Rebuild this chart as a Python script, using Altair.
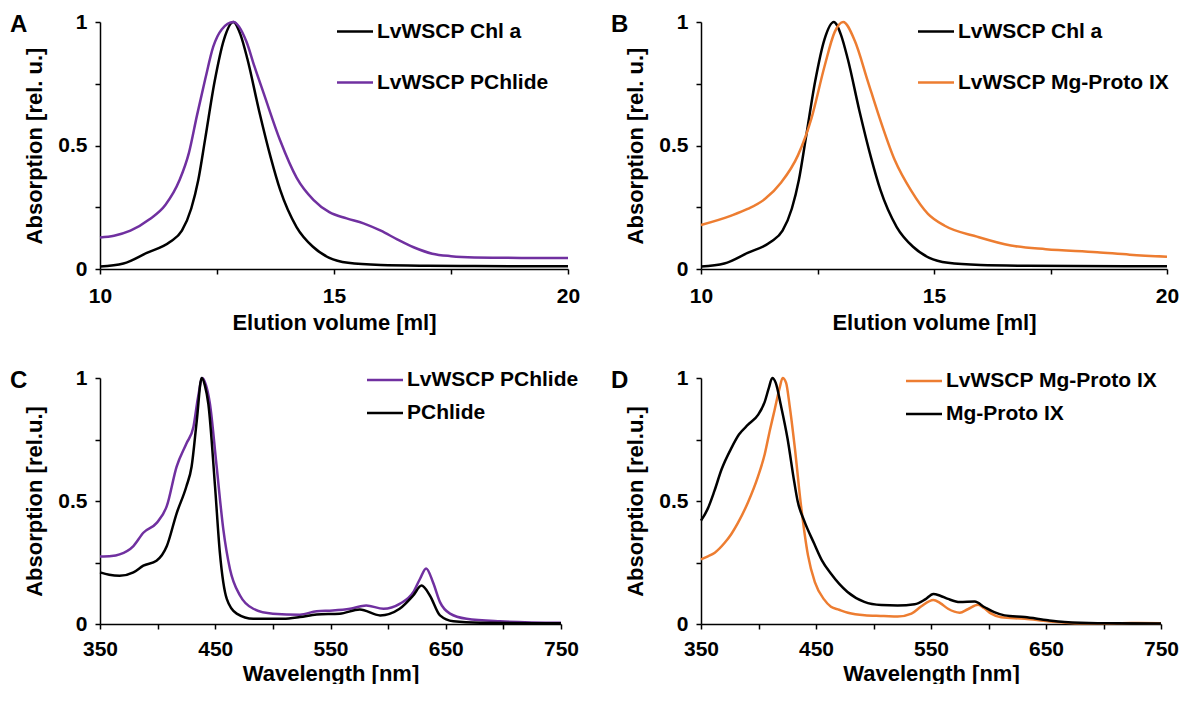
import altair as alt
import pandas as pd

FONT = "Liberation Sans"
PURPLE = "#7030A0"
ORANGE = "#ED7D31"
BLACK = "#000000"

# ---- Panel A / B : elution profiles ----
chl_x = [10, 10.5, 11, 11.5, 11.75, 11.95, 12.1, 12.25, 12.45, 12.65, 12.85, 13.0, 13.15, 13.4,
         13.65, 13.85, 14.2, 14.55, 14.9, 15.3, 16, 17, 18, 20]
chl_y = [0.01, 0.022, 0.065, 0.11, 0.155, 0.245, 0.36, 0.53, 0.76, 0.93, 1.0, 0.95, 0.85, 0.64,
         0.45, 0.32, 0.17, 0.09, 0.045, 0.025, 0.016, 0.013, 0.012, 0.011]

pchl_el_x = [10, 10.3, 10.65, 11.05, 11.4, 11.7, 11.9, 12.07, 12.25, 12.42, 12.6, 12.85, 13.13,
             13.3, 13.5, 13.85, 14.2, 14.56, 14.9, 15.27, 15.63, 16.0, 16.35, 16.7, 17.1, 17.5,
             18, 19, 20]
pchl_el_y = [0.128, 0.135, 0.155, 0.2, 0.26, 0.36, 0.47, 0.62, 0.77, 0.9, 0.97, 1.0, 0.92,
             0.82, 0.71, 0.52, 0.37, 0.28, 0.23, 0.205, 0.185, 0.155, 0.12, 0.088, 0.062, 0.052,
             0.047, 0.045, 0.045]

mgp_el_x = [10, 10.65, 11.0, 11.37, 11.72, 12.08, 12.37, 12.65, 12.87, 13.05, 13.3, 13.58, 13.8,
            14.16, 14.51, 14.87, 15.23, 15.94, 16.65, 17.4, 18.5, 19.2, 20]
mgp_el_y = [0.178, 0.216, 0.243, 0.283, 0.35, 0.46, 0.61, 0.82, 0.96, 1.0, 0.924, 0.76, 0.63,
            0.44, 0.317, 0.223, 0.175, 0.13, 0.095, 0.08, 0.068, 0.058, 0.05]

# ---- Panel C : PChlide spectra ----
c_pur_x = [350, 360, 367, 379, 387.6, 399, 408, 416.5, 425, 431, 435, 438.8, 442, 445.4, 451, 457,
           462.8, 471.5, 483, 500, 523.5, 538, 552, 567, 581, 596, 610, 621.8, 627.6, 633, 639,
           645, 653.7, 668, 697, 750]
c_pur_y = [0.274, 0.276, 0.283, 0.317, 0.371, 0.41, 0.48, 0.64, 0.734, 0.80, 0.92, 1.0, 0.97,
           0.895, 0.65, 0.385, 0.223, 0.116, 0.062, 0.042, 0.038, 0.052, 0.055, 0.062, 0.075,
           0.062, 0.082, 0.129, 0.183, 0.226, 0.169, 0.089, 0.042, 0.021, 0.011, 0.005]
c_blk_x = [350, 358, 367, 379, 387.6, 399, 408, 416.5, 425, 429.5, 434, 438.2, 441, 444, 449.8,
           454, 460, 468.6, 483, 509, 523.5, 538, 558, 575.4, 593, 610, 621.8, 629, 636.2, 645,
           656.6, 680, 750]
c_blk_y = [0.21, 0.2, 0.196, 0.21, 0.237, 0.257, 0.317, 0.45, 0.56, 0.64, 0.828, 1.0, 0.97, 0.895,
           0.56, 0.29, 0.102, 0.042, 0.021, 0.021, 0.028, 0.039, 0.042, 0.059, 0.035, 0.062,
           0.116, 0.156, 0.116, 0.035, 0.011, 0.005, 0.003]

# ---- Panel D : Mg-Proto IX spectra ----
d_org_x = [350, 356, 362, 370.6, 376.4, 382, 390.9, 399.6, 405.4, 410, 414, 418.4, 421, 424, 427,
           431.5, 437, 443, 449, 457, 463, 470, 477.8, 492.3, 509, 521, 533, 541.6, 552, 558,
           564.8, 575, 582, 591, 596, 602.4, 611, 631.5, 651.7, 675, 700, 724, 750]
d_org_y = [0.263, 0.275, 0.29, 0.33, 0.366, 0.41, 0.495, 0.6, 0.69, 0.79, 0.87, 0.96, 1.0, 0.98,
           0.89, 0.72, 0.48, 0.28, 0.17, 0.1, 0.07, 0.058, 0.046, 0.036, 0.033, 0.03, 0.042,
           0.072, 0.098, 0.085, 0.062, 0.046, 0.06, 0.078, 0.065, 0.042, 0.027, 0.021, 0.011,
           0.003, 0.002, 0.004, 0.003]
d_blk_x = [350, 356, 361.6, 368, 376.4, 383, 390.9, 399.6, 405.4, 409, 412, 415, 419.4, 425.2,
           431, 434, 439.7, 448.4, 455, 462.9, 477.4, 492, 506.8, 521, 535.8, 545, 552, 558,
           564.8, 575, 588, 596.7, 605, 614, 631.5, 651.7, 666, 695, 750]
d_blk_y = [0.42, 0.47, 0.54, 0.63, 0.715, 0.77, 0.81, 0.85, 0.903, 0.96, 1.0, 0.98, 0.89, 0.755,
           0.58, 0.5, 0.42, 0.327, 0.26, 0.205, 0.13, 0.09, 0.077, 0.075, 0.08, 0.1, 0.122, 0.115,
           0.102, 0.089, 0.091, 0.068, 0.048, 0.035, 0.028, 0.015, 0.008, 0.003, 0.002]

y_ticks = [0, 0.25, 0.5, 0.75, 1]
y_labels = [0, 0.5, 1]


def frame(series):
    rows = []
    for name, xs, ys in series:
        for i, (a, b) in enumerate(zip(xs, ys)):
            rows.append({"series": name, "x": a, "y": b, "i": i})
    return pd.DataFrame(rows)


def panel(letter, series, colors, xdom, xvals, xmajor, xtitle, ytitle, w, h,
          lx, ly, rowpad, xaxis_extra):
    df = frame(series)
    names = [s[0] for s in series]
    lines = alt.Chart(df).mark_line(strokeWidth=2.5, interpolate="monotone").encode(
        x=alt.X("x:Q", scale=alt.Scale(domain=xdom, nice=False, zero=False),
                axis=alt.Axis(values=xvals, title=xtitle, format=".4~g",
                              labelExpr=f"indexof({xmajor}, datum.value) >= 0 ? datum.label : ''",
                              **xaxis_extra)),
        y=alt.Y("y:Q", scale=alt.Scale(domain=[0, 1], nice=False),
                axis=alt.Axis(values=y_ticks, title=ytitle, format=".4~g",
                              labelExpr=f"indexof({y_labels}, datum.value) >= 0 ? datum.label : ''")),
        color=alt.Color("series:N", scale=alt.Scale(domain=names, range=colors),
                        legend=alt.Legend(orient="none", legendX=lx, legendY=ly, title=None,
                                          symbolType="M-2,0L2,0", symbolSize=324,
                                          symbolStrokeWidth=2.5, labelFont=FONT,
                                          labelFontSize=21, labelFontWeight="bold",
                                          labelColor="black", labelLimit=400, labelOffset=11.5,
                                          rowPadding=rowpad, padding=0)),
        order="i:Q",
    )
    tag = alt.Chart(pd.DataFrame({"t": [letter]})).mark_text(
        align="left", baseline="alphabetic", font=FONT, fontSize=24, fontWeight="bold",
        color="black").encode(text="t:N", x=alt.value(-90), y=alt.value(10))
    return alt.layer(lines, tag).properties(width=w, height=h)


top_x = {"labelPadding": 11, "titlePadding": 6}
bot_x = {"labelPadding": 9, "titlePadding": 4}

A = panel("A", [("LvWSCP Chl a", chl_x, chl_y), ("LvWSCP PChlide", pchl_el_x, pchl_el_y)],
          [BLACK, PURPLE], [10, 20], [10, 12.5, 15, 17.5, 20], "[10, 15, 20]",
          "Elution volume [ml]", "Absorption [rel. u.]", 468, 247, 244.5, -1, 29, top_x)
B = panel("B", [("LvWSCP Chl a", chl_x, chl_y), ("LvWSCP Mg-Proto IX", mgp_el_x, mgp_el_y)],
          [BLACK, ORANGE], [10, 20], [10, 12.5, 15, 17.5, 20], "[10, 15, 20]",
          "Elution volume [ml]", "Absorption [rel. u.]", 466, 247, 224.5, -1, 29, top_x)
C = panel("C", [("LvWSCP PChlide", c_pur_x, c_pur_y), ("PChlide", c_blk_x, c_blk_y)],
          [PURPLE, BLACK], [350, 750], [350, 400, 450, 500, 550, 600, 650, 700, 750],
          "[350, 450, 550, 650, 750]", "Wavelength [nm]", "Absorption [rel.u.]", 461, 246,
          274.5, -8.5, 11, bot_x)
D = panel("D", [("LvWSCP Mg-Proto IX", d_org_x, d_org_y), ("Mg-Proto IX", d_blk_x, d_blk_y)],
          [ORANGE, BLACK], [350, 750], [350, 400, 450, 500, 550, 600, 650, 700, 750],
          "[350, 450, 550, 650, 750]", "Wavelength [nm]", "Absorption [rel.u.]", 460, 246,
          212.5, -7.5, 11, bot_x)

top = alt.hconcat(A, B, spacing=31).resolve_scale(color="independent")
bottom = alt.hconcat(C, D, spacing=31).resolve_scale(color="independent")

chart = alt.vconcat(top, bottom, spacing=34).resolve_scale(color="independent").properties(
    padding={"left": 2, "top": 3, "right": 0, "bottom": 0}
).configure_view(stroke=None).configure_axis(
    grid=False, domainColor="black", domainWidth=1.5, tickColor="black", tickWidth=1.5,
    tickSize=5, labelFont=FONT, labelFontSize=21, labelFontWeight="bold", labelColor="black",
    labelPadding=8, titleFont=FONT, titleFontSize=22, titleFontWeight="bold",
    titleColor="black", titlePadding=8, labelOverlap=False, labelFlush=False
).configure_axisY(titlePadding=11)

chart.save("out.html", embed_options={"renderer": "svg", "actions": False})
